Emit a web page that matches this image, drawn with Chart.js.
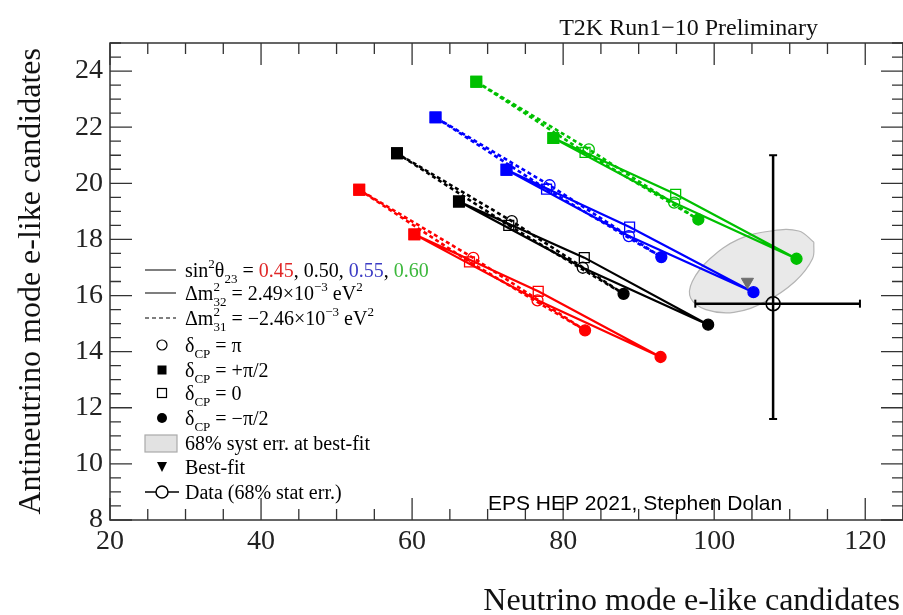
<!DOCTYPE html>
<html>
<head>
<meta charset="utf-8">
<script src="https://cdn.jsdelivr.net/npm/chart.js@4.4.1/dist/chart.umd.min.js"></script>
<style>
  html, body { margin: 0; padding: 0; background: #fff; }
  canvas { display: block; }
</style>
</head>
<body>
<canvas id="grafica" width="903" height="615"></canvas>
<script>
// valores de sin^2 theta23 (uno por curva)
const sin2Labels = ['0.45', '0.50', '0.55', '0.60'];
// puntos de cada elipse en el orden dCP = +pi/2, 0, -pi/2, pi
const nhX = [[60.3, 76.7, 92.9, 76.6], [66.2, 82.8, 99.2, 82.6], [72.5, 88.8, 105.2, 88.7], [78.7, 94.9, 110.9, 94.7]];
const nhY = [[18.18, 16.15, 13.81, 15.83], [19.35, 17.35, 14.96, 16.99], [20.48, 18.44, 16.12, 18.12], [21.61, 19.61, 17.31, 19.31]];
const ihX = [[53.0, 67.6, 82.9, 68.1], [58.0, 72.8, 88.0, 73.2], [63.1, 77.8, 93.0, 78.2], [68.5, 82.9, 97.9, 83.4]];
const ihY = [[19.77, 17.20, 14.76, 17.34], [21.07, 18.50, 16.06, 18.65], [22.35, 19.79, 17.37, 19.93], [23.62, 21.10, 18.71, 21.21]];

// datos y mejor ajuste
const dataX = [107.8];
const dataY = [15.71];
const dataXRange = [97.5, 119.3];
const dataYRange = [11.6, 21.0];
const bestFitX = [104.4];
const bestFitY = [16.49];

// contorno de la elipse de error sistematico (68%)
const ellipseX = [113.2, 111.2, 107.5, 103.2, 99.4, 97.1, 96.9, 98.9, 102.6, 106.9, 110.7, 113.0, 113.2];
const ellipseY = [17.9, 18.3, 18.3, 18.0, 17.3, 16.5, 15.9, 15.5, 15.4, 15.8, 16.5, 17.3, 17.9];

// ejes
const xTicks = [20, 40, 60, 80, 100, 120];
const yTicks = [8, 10, 12, 14, 16, 18, 20, 22, 24];

const colores = ['#ff0000', '#000000', '#0000ff', '#00c000'];
const coloresLeyenda = ['#e02828', '#000000', '#3c3cc4', '#3cb83c'];
const SERIF = '"Liberation Serif", "Times New Roman", serif';

const ordenLazo = [0, 1, 2, 3, 0];

function datasetElipse(xs, ys, color, dashed) {
    return {
        data: ordenLazo.map(i => ({ x: xs[i], y: ys[i] })),
        showLine: true,
        borderColor: color,
        borderWidth: dashed ? 2.6 : 2.2,
        borderDash: dashed ? [4, 3] : [],
        tension: 0,
        pointStyle: ['rect', 'rect', 'circle', 'circle', 'rect'],
        pointRadius: [7.5, 7, 5.5, 5.5, 7.5],
        pointBackgroundColor: [color, 'rgba(0,0,0,0)', color, 'rgba(0,0,0,0)', color],
        pointBorderColor: color,
        pointBorderWidth: 1.3,
        order: 5,
    };
}

const datasets = [];
datasets.push({
    data: ellipseX.map((x, i) => ({ x, y: ellipseY[i] })),
    showLine: true,
    fill: 'shape',
    backgroundColor: '#e9e9e9',
    borderColor: '#b4b4b4',
    borderWidth: 1.2,
    tension: 0.4,
    pointRadius: 0,
    order: 10,
});
sin2Labels.forEach((s, i) => {
    datasets.push(datasetElipse(ihX[i], ihY[i], colores[i], true));
    datasets.push(datasetElipse(nhX[i], nhY[i], colores[i], false));
});
// barras de error de los datos
datasets.push({
    data: dataXRange.map(x => ({ x, y: dataY[0] })),
    showLine: true, borderColor: '#000', borderWidth: 2.5,
    pointStyle: 'line', pointRotation: 90, pointRadius: 4, pointBorderWidth: 2, pointBorderColor: '#000',
    order: 2,
});
datasets.push({
    data: dataYRange.map(y => ({ x: dataX[0], y })),
    showLine: true, borderColor: '#000', borderWidth: 2.5,
    pointStyle: 'line', pointRotation: 0, pointRadius: 4, pointBorderWidth: 2, pointBorderColor: '#000',
    order: 2,
});
datasets.push({
    data: dataX.map((x, i) => ({ x, y: dataY[i] })),
    pointStyle: 'circle', pointRadius: 7, pointBorderWidth: 1.5,
    pointBackgroundColor: 'rgba(0,0,0,0)', pointBorderColor: '#000',
    order: 1,
});
datasets.push({
    data: bestFitX.map((x, i) => ({ x, y: bestFitY[i] })),
    pointStyle: 'triangle', pointRotation: 180, pointRadius: 7,
    pointBackgroundColor: '#6e6e6e', pointBorderColor: '#6e6e6e', pointBorderWidth: 1,
    order: 0,
});

// marco con marcas hacia dentro en los cuatro lados
const marco = {
    id: 'marco',
    afterDatasetsDraw(chart) {
        const { ctx, chartArea: { left, right, top, bottom }, scales: { x, y } } = chart;
        ctx.save();
        ctx.strokeStyle = '#333';
        ctx.lineWidth = 1.5;
        ctx.strokeRect(left, top, right - left, bottom - top);
        ctx.lineWidth = 1.3;
        ctx.beginPath();
        for (let v = 20; v <= 125; v += 5) {
            const px = x.getPixelForValue(v);
            const len = v % 20 === 0 ? 22 : 11;
            ctx.moveTo(px, bottom); ctx.lineTo(px, bottom - len);
            ctx.moveTo(px, top); ctx.lineTo(px, top + len);
        }
        for (let v = 8; v <= 25; v += 0.5) {
            const py = y.getPixelForValue(v);
            const len = v % 2 === 0 ? 22 : 11;
            ctx.moveTo(left, py); ctx.lineTo(left + len, py);
            ctx.moveTo(right, py); ctx.lineTo(right - len, py);
        }
        ctx.stroke();
        ctx.restore();
    }
};

function textoRico(ctx, x, y, partes) {
    for (const p of partes) {
        ctx.font = `${p.size || 20}px ${SERIF}`;
        ctx.fillStyle = p.color || '#000';
        ctx.fillText(p.t, x, y + (p.dy || 0));
        if (!p.stack) x += ctx.measureText(p.t).width;
    }
}

// leyenda, titulos y anotaciones
const leyenda = {
    id: 'leyenda',
    afterDraw(chart) {
        const ctx = chart.ctx;
        ctx.save();
        ctx.textBaseline = 'alphabetic';
        ctx.textAlign = 'left';
        const sx = 162, tx = 185;
        const filas = [270, 293, 318, 345, 370, 393, 418, 443, 467, 492];
        const sup = { size: 13, dy: -9 };
        const sub = { size: 13, dy: 6 };

        // lineas
        ctx.strokeStyle = '#000';
        ctx.lineWidth = 1.2;
        ctx.beginPath();
        ctx.moveTo(145, filas[0]); ctx.lineTo(176, filas[0]);
        ctx.moveTo(145, filas[1]); ctx.lineTo(176, filas[1]);
        ctx.stroke();
        ctx.setLineDash([4, 3]);
        ctx.beginPath();
        ctx.moveTo(145, filas[2]); ctx.lineTo(176, filas[2]);
        ctx.stroke();
        ctx.setLineDash([]);

        // simbolos
        ctx.fillStyle = '#000';
        ctx.beginPath(); ctx.arc(sx, filas[3], 5, 0, 2 * Math.PI); ctx.stroke();
        ctx.fillRect(sx - 4.5, filas[4] - 4.5, 9, 9);
        ctx.strokeRect(sx - 4.5, filas[5] - 4.5, 9, 9);
        ctx.beginPath(); ctx.arc(sx, filas[6], 5, 0, 2 * Math.PI); ctx.fill();
        ctx.fillStyle = '#e2e2e2';
        ctx.fillRect(145, filas[7] - 8, 32, 17);
        ctx.strokeStyle = '#aaa';
        ctx.strokeRect(145, filas[7] - 8, 32, 17);
        ctx.fillStyle = '#000';
        ctx.beginPath();
        ctx.moveTo(sx - 5, filas[8] - 5); ctx.lineTo(sx + 5, filas[8] - 5); ctx.lineTo(sx, filas[8] + 5);
        ctx.closePath(); ctx.fill();
        ctx.strokeStyle = '#000';
        ctx.lineWidth = 1.5;
        ctx.beginPath();
        ctx.moveTo(145, filas[9]); ctx.lineTo(156, filas[9]);
        ctx.moveTo(168, filas[9]); ctx.lineTo(179, filas[9]);
        ctx.stroke();
        ctx.beginPath(); ctx.arc(sx, filas[9], 6, 0, 2 * Math.PI); ctx.stroke();

        // textos
        const b = 7;
        const partesSin = [{ t: 'sin' }, { t: '2', ...sup }, { t: 'θ' }, { t: '23', ...sub }, { t: ' = ' }];
        sin2Labels.forEach((s, i) => {
            partesSin.push({ t: s, color: coloresLeyenda[i] });
            if (i < sin2Labels.length - 1) partesSin.push({ t: ', ' });
        });
        textoRico(ctx, tx, filas[0] + b, partesSin);
        textoRico(ctx, tx, filas[1] + b, [{ t: 'Δm' }, { t: '2', ...sup, stack: true }, { t: '32', ...sub }, { t: ' = 2.49×10' }, { t: '−3', ...sup }, { t: ' eV' }, { t: '2', ...sup }]);
        textoRico(ctx, tx, filas[2] + b, [{ t: 'Δm' }, { t: '2', ...sup, stack: true }, { t: '31', ...sub }, { t: ' = −2.46×10' }, { t: '−3', ...sup }, { t: ' eV' }, { t: '2', ...sup }]);
        const deltas = ['π', '+π/2', '0', '−π/2'];
        deltas.forEach((d, i) => {
            textoRico(ctx, tx, filas[3 + i] + b, [{ t: 'δ' }, { t: 'CP', ...sub }, { t: ' = ' + d }]);
        });
        textoRico(ctx, tx, filas[7] + b, [{ t: '68% syst err. at best-fit' }]);
        textoRico(ctx, tx, filas[8] + b, [{ t: 'Best-fit' }]);
        textoRico(ctx, tx, filas[9] + b, [{ t: 'Data (68% stat err.)' }]);

        // titulo
        ctx.fillStyle = '#111';
        ctx.textAlign = 'right';
        ctx.font = `24px ${SERIF}`;
        ctx.fillText('T2K Run1−10 Preliminary', 818, 35);

        // titulos de ejes
        ctx.font = `32px ${SERIF}`;
        ctx.fillText('Neutrino mode e-like candidates', 900, 610);
        ctx.save();
        ctx.translate(32, 48);
        ctx.rotate(-Math.PI / 2);
        ctx.textBaseline = 'middle';
        ctx.fillText('Antineutrino mode e-like candidates', 0, 0);
        ctx.restore();

        // anotacion
        ctx.textAlign = 'left';
        ctx.font = '21px "Liberation Sans", Arial, sans-serif';
        ctx.fillStyle = '#000';
        ctx.fillText('EPS HEP 2021, Stephen Dolan', 488, 510);
        ctx.restore();
    }
};

new Chart(document.getElementById('grafica'), {
    type: 'scatter',
    data: { datasets },
    options: {
        responsive: false,
        animation: false,
        devicePixelRatio: 1,
        layout: { autoPadding: false, padding: { top: 43, right: 0, bottom: 0, left: 0 } },
        plugins: { legend: { display: false }, tooltip: { enabled: false } },
        scales: {
            x: {
                type: 'linear', min: 20, max: 125,
                afterBuildTicks: s => { s.ticks = xTicks.map(v => ({ value: v })); },
                afterFit: s => { s.height = 95; s.paddingRight = 0; s.paddingLeft = 0; },
                grid: { display: false, drawTicks: false },
                border: { display: false },
                ticks: { autoSkip: false, maxRotation: 0, padding: 5, color: '#222', font: { family: SERIF, size: 28 } },
            },
            y: {
                type: 'linear', min: 8, max: 25,
                afterBuildTicks: s => { s.ticks = yTicks.map(v => ({ value: v })); },
                afterFit: s => { s.width = 110; s.paddingTop = 0; s.paddingBottom = 0; },
                grid: { display: false, drawTicks: false },
                border: { display: false },
                ticks: { autoSkip: false, padding: 7, color: '#222', font: { family: SERIF, size: 28 } },
            },
        },
    },
    plugins: [marco, leyenda],
});
</script>
</body>
</html>
